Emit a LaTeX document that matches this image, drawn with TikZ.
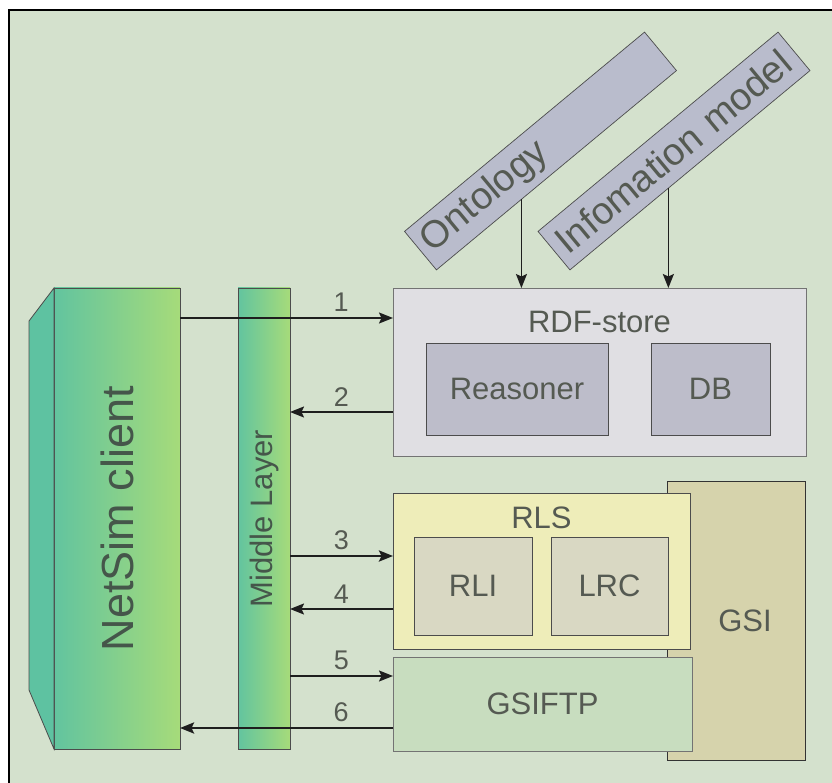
\documentclass[tikz,border=0pt]{standalone}
\usepackage{fontspec}
\setmainfont{Liberation Sans}
\usepackage{graphicx}
\usetikzlibrary{arrows.meta,calc}
\definecolor{cBg}{HTML}{D4E1CD}
\definecolor{cGl}{HTML}{62C49F}
\definecolor{cGr}{HTML}{A6DB7A}
\definecolor{cSide}{HTML}{5EC2A1}
\definecolor{cBar}{HTML}{B9BCCC}
\definecolor{cRdf}{HTML}{E0DFE3}
\definecolor{cInn}{HTML}{BDBDCA}
\definecolor{cRls}{HTML}{EEEDB9}
\definecolor{cRli}{HTML}{D9D8C3}
\definecolor{cGsi}{HTML}{D6D3AC}
\definecolor{cFtp}{HTML}{C8DDBF}
\definecolor{cTxt}{HTML}{555A52}
\definecolor{cTxtD}{HTML}{45564A}
\definecolor{cLine}{HTML}{1E1E1E}

\begin{document}
\begin{tikzpicture}[x=1pt, y=-1pt,
    every node/.style={inner sep=0pt, outer sep=0pt, text=cTxt},
    fMid/.style ={font=\fontsize{31}{31}\selectfont},
    fBar/.style ={font=\fontsize{38}{38}\selectfont},
    fNum/.style ={font=\fontsize{27}{27}\selectfont},
    blk/.style  ={draw=black!70, line width=.8pt, anchor=north west, fMid},
    grad/.style ={blk, left color=cGl, right color=cGr},
    bar/.style  ={draw=black!70, line width=.7pt, fill=cBar, rotate=39.7, fBar,
                  minimum width=312, minimum height=50, align=left,
                  text width=296, inner xsep=8},
    ttl/.style  ={anchor=center, yshift=-#1, fMid},
    ar/.style   ={-{Stealth[length=14pt,width=11pt,inset=2.5pt]}, draw=cLine, line width=1.7pt},
    arb/.style  ={ar, line width=2.7pt}]
\useasboundingbox (0,0) rectangle (832,783);

% ── frame ──────────────────────────────────────────────────────────────
\fill[white] (0,0) rectangle (832,783);
\fill[cBg] (9,10) rectangle (832,783);
\draw[line width=1.2pt] (9,783) -- (9,10) -- (832,10);

% ── client and middle layer ────────────────────────────────────────────
\node[grad, minimum width=126, minimum height=461] (ns) at (54,288)
  {\rotatebox{90}{\fontsize{45}{45}\selectfont\color{cTxtD}NetSim client}};
\filldraw[fill=cSide, draw=black!70, line width=.8pt]
  (ns.north west) -- ++(-25,33) -- ++(0,369) -- (ns.south west) -- cycle;
\node[grad, minimum width=52, minimum height=461] (ml) at (238,288)
  {\rotatebox{90}{\color{cTxtD}Middle Layer}};

% ── inputs ─────────────────────────────────────────────────────────────
\node[bar] (ont) at (540.5,151) {Ontology};
\node[bar] (inf) at (674,151) {Infomation model};

% ── RDF-store ──────────────────────────────────────────────────────────
\node[blk, fill=cRdf, draw=black!55, minimum width=413, minimum height=168,
      label={[ttl=34pt]north:RDF-store}] (rdf) at (393,288) {};
\node[blk, fill=cInn, minimum width=182, minimum height=92] (rsn) at (426,343) {Reasoner};
\node[blk, fill=cInn, minimum width=119, minimum height=92] (db) at (651,343) {DB};

% ── RLS, GSI, GSIFTP ───────────────────────────────────────────────────
\node[blk, fill=cGsi, draw=black!80, minimum width=138, minimum height=279,
      label={[anchor=center, xshift=9pt, fMid]center:GSI}] (gsi) at (667,481) {};
\node[blk, fill=cRls, minimum width=297, minimum height=156,
      label={[ttl=25pt]north:RLS}] (rls) at (393,493) {};
\node[blk, fill=cRli, minimum width=118, minimum height=98] (rli) at (414,537) {RLI};
\node[blk, fill=cRli, minimum width=117, minimum height=98] (lrc) at (551,537) {LRC};
\node[blk, fill=cFtp, draw=black!55, minimum width=299, minimum height=94] (ftp) at (393,657) {GSIFTP};

% ── arrows ─────────────────────────────────────────────────────────────
\coordinate (o1) at ($(ont.south west)!.354!(ont.south east)$);
\coordinate (o2) at ($(inf.south west)!.41!(inf.south east)$);
\draw[ar] (o1) -- (o1 |- rdf.north);
\draw[ar] (o2) -- (o2 |- rdf.north);

\coordinate (a1) at ([yshift=-30]rdf.north west);
\coordinate (a2) at ([yshift=-124]rdf.north west);
\coordinate (a3) at ([yshift=-63]rls.north west);
\coordinate (a4) at ([yshift=-116]rls.north west);
\coordinate (a5) at ([yshift=-19]ftp.north west);
\coordinate (a6) at ([yshift=-71]ftp.north west);
\draw[ar]  (ns.east |- a1) -- node[pos=.756, above=6pt, fNum] {1} (a1);
\draw[ar]  (a2) -- node[midway, above=6pt, fNum] {2} (ml.east |- a2);
\draw[arb] (ml.east |- a3) -- node[midway, above=6pt, fNum] {3} (a3);
\draw[ar]  (a4) -- node[midway, above=6pt, fNum] {4} (ml.east |- a4);
\draw[ar]  (ml.east |- a5) -- node[midway, above=6pt, fNum] {5} (a5);
\draw[arb] (a6) -- node[pos=.244, above=6pt, fNum] {6} (ns.east |- a6);
\end{tikzpicture}
\end{document}
